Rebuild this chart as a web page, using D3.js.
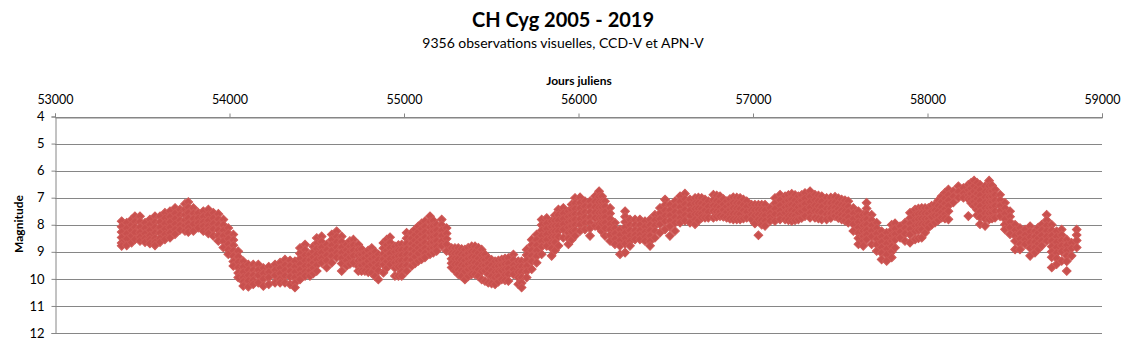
<!DOCTYPE html>
<html><head><meta charset="utf-8">
<script src="https://cdn.jsdelivr.net/npm/d3@7/dist/d3.min.js"></script>
<style>
html,body{margin:0;padding:0;background:#fff;}
svg{display:block;font-family:Lato,'Open Sans',sans-serif;}
</style></head><body>
<svg id="chart" width="1125" height="355"></svg>
<script>
const titleText = "CH Cyg 2005 - 2019";
const subtitleText = "9356 observations visuelles, CCD-V et APN-V";
const xTitle = "Jours juliens";
const yTitle = "Magnitude";
const xTicks = [53000,54000,55000,56000,57000,58000,59000];
const yTicks = [4,5,6,7,8,9,10,11,12];

// Observation columns: Julian day and the magnitudes read at that date
const obsJD = [53382,53411,53439,53458,53487,53516,53544,53573,53602,53630,53659,53688,53716,53745,53764,53793,53821,53850,53879,53907,53936,53965,53993,54022,54050,54079,54108,54136,54165,54194,54225,54261,54290,54318,54347,54375,54404,54433,54461,54480,54500,54528,54557,54586,54614,54643,54671,54690,54710,54738,54757,54776,54795,54815,54834,54853,54882,54901,54920,54948,54968,54987,55015,55044,55063,55082,55101,55120,55149,55168,55187,55216,55244,55273,55292,55311,55330,55349,55368,55388,55407,55426,55445,55464,55483,55502,55522,55541,55560,55579,55598,55627,55655,55674,55703,55732,55760,55789,55818,55846,55865,55885,55913,55942,55961,55980,56009,56037,56066,56095,56118,56135,56152,56181,56209,56238,56267,56295,56324,56352,56381,56410,56438,56467,56496,56524,56553,56582,56610,56639,56668,56687,56706,56725,56744,56773,56792,56811,56830,56849,56868,56887,56907,56926,56945,56964,56992,57011,57031,57050,57069,57098,57126,57155,57184,57203,57222,57241,57260,57279,57298,57327,57355,57375,57394,57422,57446,57470,57489,57508,57527,57546,57575,57604,57632,57651,57680,57709,57737,57766,57795,57814,57843,57871,57900,57929,57948,57967,57986,58005,58024,58043,58062,58081,58100,58120,58148,58177,58206,58234,58250,58267,58284,58301,58330,58353,58370,58387,58416,58444,58473,58502,58530,58559,58588,58616,58635,58654,58683,58712,58740,58769,58798,58826,58855];
const obsMag = [
[7.87,8.07,8.27,8.47,8.67,8.78],[7.93,8.13,8.33,8.53,8.76],[7.81,8.01,8.21,8.41,8.66],[7.69,7.89,8.09,8.29,8.54],[7.69,7.89,8.09,8.29,8.45,8.6],
[7.93,8.13,8.33,8.5,8.64],[7.81,8.0,8.2,8.4,8.55,8.69],[7.69,7.9,8.1,8.3,8.5,8.65,8.76],[7.69,7.9,8.1,8.3,8.5,8.64],[7.56,7.76,7.96,8.16,8.36,8.54],
[7.5,7.7,7.9,8.1,8.3,8.48],[7.38,7.58,7.78,7.98,8.18,8.35],[7.44,7.64,7.84,8.02,8.19],[7.23,7.43,7.63,7.83,8.03,8.23],[7.16,7.36,7.56,7.76,7.96,8.12,8.27],
[7.38,7.58,7.78,7.98,8.23],[7.56,7.76,7.94,8.11],[7.5,7.7,7.9,8.06,8.23],[7.44,7.64,7.84,8.04,8.2,8.32],[7.56,7.76,7.96,8.16,8.41],
[7.6,7.8,8.0,8.2,8.4,8.6],[7.81,8.01,8.21,8.41,8.61,8.84],[8.12,8.32,8.52,8.72,8.92,9.09],[8.36,8.56,8.76,8.96,9.16,9.36,9.52],[8.98,9.18,9.38,9.58,9.78,9.95],
[9.35,9.55,9.75,9.95,10.1,10.26],[9.47,9.67,9.87,10.07,10.29],[9.47,9.67,9.87,10.05,10.2],[9.47,9.67,9.87,10.14],[9.6,9.8,10.0,10.26],
[9.55,9.75,9.95,10.2],[9.47,9.67,9.87,10.14],[9.4,9.6,9.8,10.0,10.14],[9.29,9.49,9.69,9.89,10.14],[9.32,9.52,9.72,9.92,10.2],
[9.35,9.55,9.75,9.95,10.15,10.32],[8.86,9.06,9.26,9.46,9.66,9.86,10.02],[8.73,8.93,9.13,9.33,9.53,9.73,9.89],[9.1,9.3,9.5,9.7,9.89],[8.8,9.0,9.2,9.4,9.6,9.8],
[8.49,8.69,8.89,9.09,9.29,9.49,9.71],[8.43,8.63,8.83,9.03,9.23,9.4],[8.73,8.93,9.13,9.33,9.58],[8.36,8.56,8.76,8.96,9.16,9.4],[8.24,8.44,8.64,8.84,9.04,9.21],
[8.43,8.63,8.83,9.03,9.23,9.43,9.71],[8.73,8.93,9.13,9.33,9.52],[8.6,8.8,9.0,9.2,9.45],[8.55,8.75,8.95,9.15,9.4],[8.73,8.93,9.13,9.33,9.53,9.71],
[8.9,9.1,9.3,9.5,9.71],[9.04,9.24,9.44,9.71],[8.95,9.15,9.35,9.55,9.75],[8.86,9.06,9.26,9.46,9.77],[9.0,9.2,9.4,9.6,9.9],
[9.1,9.3,9.5,9.7,10.02],[8.67,8.87,9.07,9.27,9.47,9.77],[8.55,8.75,8.95,9.15,9.35,9.6],[8.46,8.66,8.86,9.06,9.26,9.46],[8.8,9.0,9.2,9.4,9.6,9.89],
[8.75,8.95,9.15,9.35,9.55,9.89],[8.73,8.93,9.13,9.33,9.53,9.73,9.89],[8.3,8.5,8.7,8.9,9.1,9.3,9.5,9.71],[8.3,8.5,8.7,8.9,9.1,9.3,9.52],[8.18,8.38,8.58,8.78,8.98,9.18,9.43],
[8.06,8.26,8.46,8.66,8.86,9.06,9.34],[7.95,8.15,8.35,8.55,8.75,8.95,9.27],[7.87,8.07,8.27,8.47,8.67,8.87,9.05,9.21],[7.69,7.89,8.09,8.29,8.49,8.69,8.89,9.09],[7.85,8.05,8.25,8.45,8.65,8.85,9.03],
[8.0,8.2,8.4,8.6,8.8,8.97],[7.81,8.01,8.21,8.41,8.61,8.78],[8.12,8.32,8.52,8.72,8.97],[8.86,9.06,9.26,9.42,9.58],[8.86,9.06,9.26,9.46,9.7],
[8.86,9.06,9.26,9.46,9.66,9.83],[8.9,9.1,9.3,9.5,9.7,9.9],[8.92,9.12,9.32,9.52,9.72,10.02],[8.85,9.05,9.25,9.45,9.65,9.9],[8.8,9.0,9.2,9.4,9.6,9.83],
[8.8,9.0,9.2,9.4,9.6,9.83],[8.85,9.05,9.25,9.45,9.65,9.9],[8.92,9.12,9.32,9.52,9.72,10.02],[9.1,9.3,9.5,9.7,10.08],[9.23,9.43,9.63,9.83,10.14],
[9.3,9.5,9.7,9.9,10.17],[9.35,9.55,9.75,9.95,10.2],[9.32,9.52,9.72,9.92,10.1],[9.29,9.49,9.69,10.02],[9.25,9.45,9.65,9.85,10.05],
[9.23,9.43,9.63,9.83,10.08],[9.1,9.3,9.5,9.65,9.83],[9.35,9.55,9.75,9.95,10.2],[9.35,9.55,9.75,9.95,10.15,10.32],[8.92,9.12,9.32,9.52,9.72,9.95],
[8.55,8.75,8.95,9.15,9.35,9.64],[8.36,8.56,8.76,8.96,9.16,9.4],[7.81,8.01,8.21,8.41,8.61,8.81,9.09],[7.75,7.95,8.15,8.35,8.55,8.78],[7.87,8.07,8.27,8.47,8.67,8.87,9.15],
[7.65,7.85,8.05,8.25,8.45,8.65,8.95],[7.44,7.64,7.84,8.04,8.24,8.44,8.78],[7.38,7.58,7.78,7.98,8.18,8.48],[7.5,7.7,7.9,8.1,8.3,8.5,8.72],[7.25,7.45,7.65,7.85,8.05,8.25,8.55],
[7.01,7.21,7.41,7.61,7.81,8.01,8.21,8.41],[6.99,7.19,7.39,7.59,7.79,7.99,8.23],[7.13,7.33,7.53,7.73,7.93,8.17],[7.13,7.33,7.53,7.73,7.93,8.13,8.41],[6.95,7.15,7.35,7.55,7.75,8.04],
[6.76,6.96,7.16,7.36,7.56,7.76,7.96,8.11],[6.95,7.15,7.35,7.55,7.75,7.95,8.25],[7.13,7.33,7.53,7.73,7.93,8.13,8.41],[7.38,7.58,7.78,7.98,8.18,8.38,8.6],[7.93,8.13,8.33,8.53,8.72],
[8.18,8.38,8.58,8.78,9.09],[7.5,7.7,7.9,8.1,8.3,8.5,8.7,9.03],[7.81,8.01,8.21,8.41,8.61,8.78],[7.81,8.01,8.21,8.38,8.54],[7.81,8.01,8.21,8.38,8.54],
[7.87,8.07,8.27,8.44,8.6],[7.81,8.01,8.21,8.41,8.61,8.78],[7.63,7.83,8.03,8.23,8.48],[7.38,7.58,7.78,7.98,8.29],[7.07,7.27,7.47,7.67,7.87,8.17],
[7.26,7.46,7.66,7.86,8.06,8.41],[7.13,7.33,7.53,7.73,7.93,8.23],[6.95,7.15,7.35,7.55,7.75,7.92],[6.85,7.05,7.25,7.45,7.65,7.85],[7.07,7.27,7.47,7.67,7.92],
[7.01,7.21,7.41,7.61,7.81,7.98],[7.0,7.2,7.4,7.6,7.85],[7.01,7.21,7.41,7.58,7.74],[7.07,7.27,7.47,7.74],[7.13,7.33,7.53,7.74],
[6.89,7.09,7.29,7.49,7.74],[6.92,7.12,7.32,7.52,7.7],[6.95,7.15,7.35,7.52,7.68],[7.05,7.25,7.45,7.7],[7.13,7.33,7.53,7.74],
[7.05,7.25,7.45,7.62,7.78],[6.99,7.19,7.39,7.59,7.8],[7.0,7.2,7.4,7.6,7.8],[7.01,7.21,7.41,7.61,7.8],[7.07,7.27,7.47,7.77],
[7.13,7.33,7.53,7.74],[7.26,7.46,7.63,7.8],[7.26,7.46,7.66,7.95],[7.26,7.45,7.63,7.8,8.39],[7.26,7.46,7.66,7.83,8.0],
[7.26,7.46,7.66,7.86,8.04],[7.38,7.58,7.72,7.86],[7.01,7.21,7.41,7.61,7.86],[6.89,7.09,7.29,7.49,7.65,7.8],[6.95,7.15,7.35,7.55,7.8],
[6.9,7.1,7.3,7.5,7.67,7.83],[6.86,7.06,7.26,7.46,7.66,7.86],[6.9,7.1,7.3,7.5,7.67,7.83],[6.95,7.15,7.35,7.55,7.8],[6.9,7.1,7.3,7.5,7.75],
[6.83,7.03,7.23,7.43,7.68],[6.76,6.96,7.16,7.36,7.56,7.74],[6.89,7.09,7.29,7.49,7.74],[6.92,7.12,7.32,7.52,7.77],[6.95,7.15,7.35,7.55,7.8],
[7.01,7.21,7.41,7.61,7.8],[7.0,7.2,7.4,7.58,7.75],[6.97,7.17,7.37,7.53,7.68],[7.02,7.22,7.42,7.58,7.75],[7.07,7.27,7.47,7.63,7.8],
[7.1,7.3,7.5,7.68,7.85],[7.13,7.33,7.53,7.73,7.92],[7.38,7.58,7.78,7.98,8.23],[7.5,7.7,7.9,8.1,8.3,8.5,8.72],[7.63,7.83,8.03,8.23,8.43,8.6,8.78],
[7.19,7.4,7.6,7.8,8.0,8.2,8.37,8.54],[7.63,7.83,8.03,8.23,8.43,8.72],[7.93,8.13,8.33,8.53,8.73,8.97],[8.24,8.44,8.64,8.84,9.04,9.28],[8.3,8.5,8.7,8.9,9.1,9.34],
[8.0,8.2,8.4,8.6,8.8,9.0,9.21],[7.95,8.15,8.35,8.55,8.85],[8.06,8.26,8.48],[7.93,8.13,8.33,8.6],[7.56,7.76,7.96,8.16,8.36,8.66],
[7.44,7.64,7.84,8.04,8.24,8.54],[7.4,7.6,7.8,8.0,8.2,8.5],[7.38,7.58,7.78,7.98,8.18,8.48],[7.38,7.58,7.78,7.98,8.3],[7.38,7.58,7.78,7.95,8.11],
[7.3,7.5,7.7,8.0],[7.26,7.46,7.66,7.92],[7.1,7.3,7.5,7.66,7.83],[6.95,7.15,7.35,7.55,7.74],[6.82,7.02,7.22,7.42,7.6,7.77],
[6.7,6.9,7.1,7.3,7.5,7.8],[6.76,6.96,7.18],[6.58,6.78,7.0],[6.64,6.84,7.0],[6.52,6.72,6.9,7.05,7.68],
[6.45,6.65,6.85,7.05,7.2],[6.37,6.57,6.77,6.97,7.15,7.31],[6.45,6.65,6.85,7.05,7.25,7.45,7.65],[6.52,6.72,6.92,7.12,7.32,7.52,7.72,7.98],[6.58,6.78,6.98,7.18,7.38,7.58,7.78,8.04],
[6.37,6.57,6.77,6.97,7.17,7.37,7.57,7.8],[6.55,6.75,6.95,7.15,7.35,7.55,7.77],[6.7,6.9,7.1,7.3,7.5,7.74],[6.89,7.09,7.29,7.49,7.68],[7.19,7.39,7.59,7.79,7.99,8.17],
[7.5,7.7,7.9,8.1,8.35],[8.0,8.2,8.4,8.6,8.91],[8.12,8.32,8.52,8.72,8.91],[8.18,8.38,8.55,8.72],[8.06,8.26,8.46,8.66,8.86,9.15],
[8.24,8.44,8.64,8.84,9.03],[8.1,8.3,8.5,8.7,8.9],[8.0,8.2,8.4,8.6,8.78],[7.63,7.83,8.03,8.23,8.43,8.6],[8.0,8.2,8.4,8.6,8.8,9.0,9.2,9.58],
[8.24,8.44,8.64,8.84,9.04,9.24,9.46],[8.18,8.38,8.58,8.78,8.98,9.34],[8.55,8.75,8.95,9.15,9.35,9.71],[8.67,8.87,9.15],[8.18,8.38,8.58,8.84]
];

const W = 1125, H = 355;
const margin = {left:55, right:23, top:116.5, bottom:22};
const svg = d3.select("#chart");

const x = d3.scaleLinear().domain([53000,59000]).range([margin.left, W - margin.right]);
const y = d3.scaleLinear().domain([4,12]).range([margin.top, H - margin.bottom]);

// Gridlines
svg.append("g").selectAll("line").data(yTicks).join("line")
  .attr("x1", x(53000)).attr("x2", x(59000))
  .attr("y1", d => Math.round(y(d)) + 0.5).attr("y2", d => Math.round(y(d)) + 0.5)
  .attr("stroke", "#868686").attr("stroke-width", 1);

// Left axis
const yAxis = svg.append("g")
  .attr("transform", `translate(${Math.round(x(53000)) + 0.5},0)`)
  .call(d3.axisLeft(y).tickValues(yTicks).tickSize(4).tickPadding(7).tickFormat(d3.format("d")));
yAxis.select(".domain").attr("stroke", "#868686");
yAxis.selectAll(".tick line").attr("stroke", "#868686");
yAxis.selectAll(".tick text").attr("font-size", 13).attr("fill", "#000").attr("font-family", "Lato,'Open Sans',sans-serif");

// Top axis
const xAxis = svg.append("g")
  .attr("transform", `translate(0,${Math.round(y(4)) + 0.5})`)
  .call(d3.axisTop(x).tickValues(xTicks).tickSize(4).tickPadding(10).tickFormat(d3.format("d")));
xAxis.select(".domain").attr("stroke", "#868686");
xAxis.selectAll(".tick line").attr("stroke", "#868686");
xAxis.selectAll(".tick text").attr("font-size", 12.5).attr("fill", "#000").attr("font-family", "Lato,'Open Sans',sans-serif");

// Points
const pts = [];
obsJD.forEach((jd, i) => obsMag[i].forEach(m => pts.push([jd, m])));
const sym = d3.symbol().type(d3.symbolSquare).size(38)();
svg.append("g").selectAll("path").data(pts).join("path")
  .attr("d", sym)
  .attr("transform", d => `translate(${x(d[0])},${y(d[1])}) rotate(45)`)
  .attr("fill", "#c8504e")
  .attr("stroke", "#cf5a57")
  .attr("stroke-width", 1);

// Titles
svg.append("text").attr("x", 563).attr("y", 27).attr("text-anchor", "middle")
  .attr("font-size", 20).attr("font-weight", "bold").attr("fill", "#000").text(titleText);
svg.append("text").attr("x", 563).attr("y", 48).attr("text-anchor", "middle")
  .attr("font-size", 14).attr("fill", "#000").text(subtitleText);
svg.append("text").attr("x", 579).attr("y", 85).attr("text-anchor", "middle")
  .attr("font-size", 12).attr("font-weight", "bold").attr("fill", "#000").text(xTitle);
svg.append("text").attr("transform", "translate(23,224) rotate(-90)").attr("text-anchor", "middle")
  .attr("font-size", 12).attr("font-weight", "bold").attr("fill", "#000").text(yTitle);
</script>
</body></html>
